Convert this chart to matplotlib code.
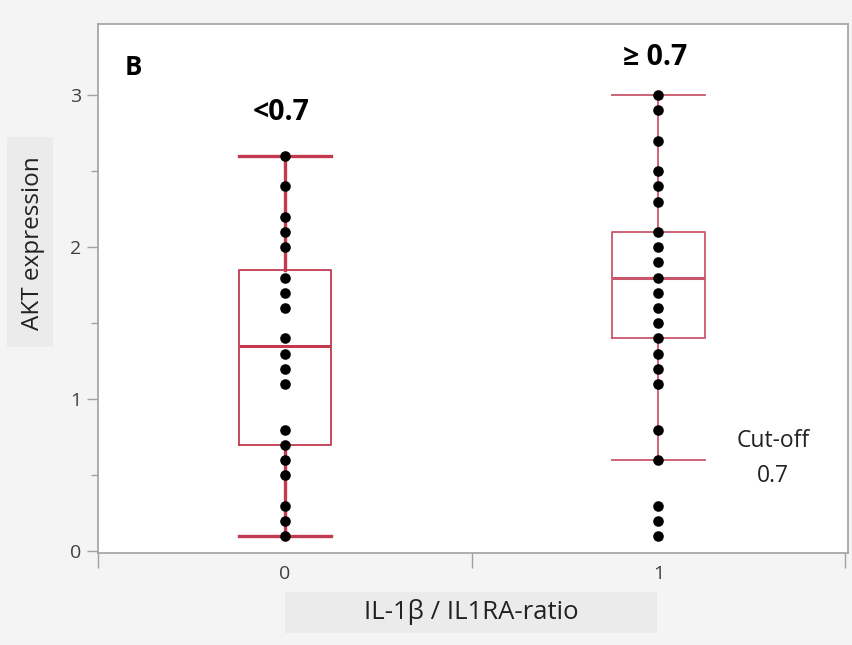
"""AKT expression by IL-1b / IL1RA-ratio group (box plot with points)."""
import matplotlib

matplotlib.use("Agg")
import matplotlib.pyplot as plt
from matplotlib.patches import Rectangle

plt.rcParams["font.family"] = ["Open Sans", "DejaVu Sans"]

# ---- data ----
groups = [0, 1]
group_labels = ["0", "1"]
group_titles = ["<0.7", "\u2265 0.7"]

akt_low = [2.6, 2.4, 2.2, 2.1, 2.0, 1.8, 1.7, 1.6, 1.4, 1.3, 1.2, 1.1,
           0.8, 0.7, 0.6, 0.5, 0.3, 0.2, 0.1]
akt_high = [3.0, 2.9, 2.7, 2.5, 2.4, 2.3, 2.1, 2.0, 1.9, 1.8, 1.7, 1.6,
            1.5, 1.4, 1.3, 1.2, 1.1, 0.8, 0.6, 0.3, 0.2, 0.1]

q1 = [0.70, 1.40]
median = [1.35, 1.80]
q3 = [1.85, 2.10]
whisker_lo = [0.10, 0.60]
whisker_hi = [2.60, 3.00]

GRAY = "#a0a0a0"
TXT = "#404040"
BOX_COLORS = ["#c23a50", "#c9576b"]
WHISK_LW = [2.4, 1.3]

W, H = 853, 645
fig = plt.figure(figsize=(W / 100, H / 100), dpi=100, facecolor="#f4f4f4")
ax = fig.add_axes([0.115, 0.143, 0.879, 0.820])
ax.set_facecolor("white")

for i, g in enumerate(groups):
    stats = [{
        "med": median[i], "q1": q1[i], "q3": q3[i],
        "whislo": whisker_lo[i], "whishi": whisker_hi[i], "fliers": [],
    }]
    c = BOX_COLORS[i]
    ax.bxp(
        stats, positions=[g], widths=0.248, showfliers=False,
        boxprops=dict(color=c, linewidth=1.3),
        medianprops=dict(color=c, linewidth=2.2),
        whiskerprops=dict(color=c, linewidth=WHISK_LW[i]),
        capprops=dict(color=c, linewidth=WHISK_LW[i]),
        capwidths=0.248, manage_ticks=False, zorder=2,
    )

for g, vals in zip(groups, [akt_low, akt_high]):
    ax.scatter([g] * len(vals), vals, s=58, color="black", zorder=3,
               linewidths=0)

ax.set_xlim(-0.493, 1.507)
ax.set_ylim(-0.01, 3.47)

# ticks
ax.set_yticks([0, 1, 2, 3])
ax.set_yticks([0.5, 1.5, 2.5], minor=True)
ax.set_xticks(groups)
ax.set_xticklabels(group_labels)
ax.set_xticks([-0.5, 0.5, 1.5], minor=True)
ax.tick_params(axis="y", which="major", length=8, width=1, color=GRAY,
               labelcolor=TXT, labelsize=14, pad=4)
ax.tick_params(axis="y", which="minor", length=5, width=1, color=GRAY)
ax.tick_params(axis="x", which="major", length=0, labelcolor=TXT,
               labelsize=14, pad=9)
ax.tick_params(axis="x", which="minor", length=11, width=1, color=GRAY)

for s in ax.spines.values():
    s.set_color(GRAY)
    s.set_linewidth(1.2)

# light gray boxes behind the axis titles
fig.add_artist(Rectangle((285 / W, (H - 633) / H), 372 / W, 41 / H,
                         transform=fig.transFigure, fc="#ebebeb", ec="none",
                         zorder=0))
fig.add_artist(Rectangle((7 / W, (H - 347) / H), 46 / W, 210 / H,
                         transform=fig.transFigure, fc="#ebebeb", ec="none",
                         zorder=0))
fig.text(471 / W, (H - 612) / H, "IL-1\u03b2 / IL1RA-ratio", fontsize=18.5,
         color="#222222", ha="center", va="center")
fig.text(33 / W, (H - 243) / H, "AKT expression", fontsize=17.5,
         color="#222222", ha="center", va="center", rotation=90)

# annotations
ax.text(0.036, 0.918, "B", transform=ax.transAxes, fontsize=18.5,
        fontweight="bold", ha="left", va="center")
ax.text(-0.01, 2.89, group_titles[0], fontsize=20.5, fontweight="bold",
        ha="center", va="center")
ax.text(0.99, 3.25, group_titles[1], fontsize=20.5, fontweight="bold",
        ha="center", va="center")
ax.text(1.307, 0.61, "Cut-off\n0.7", fontsize=16.5, color="#222222",
        ha="center", va="center", linespacing=1.65)

plt.savefig("out.png", dpi=100, facecolor=fig.get_facecolor())
plt.close(fig)
